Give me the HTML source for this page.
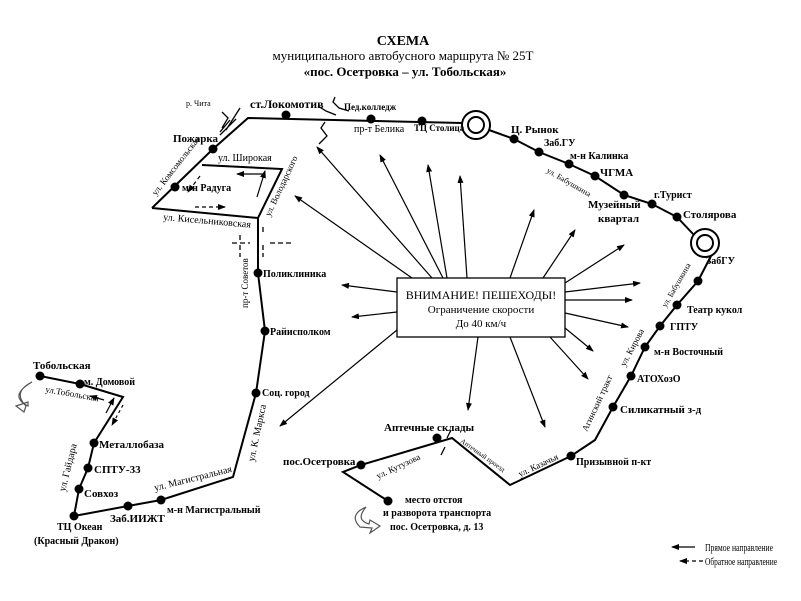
<!DOCTYPE html>
<html><head><meta charset="utf-8"><style>
html,body{margin:0;padding:0;background:#fff;width:801px;height:601px;overflow:hidden}
svg{display:block}
text{font-family:"Liberation Serif",serif;fill:#000}
.b{font-weight:bold;font-size:11px}
.g{font-size:10px;fill:#555}
</style></head><body>
<svg width="801" height="601" viewBox="0 0 801 601" xmlns="http://www.w3.org/2000/svg">
<defs><marker id="a" markerWidth="8" markerHeight="6" refX="7" refY="3" orient="auto" markerUnits="userSpaceOnUse"><path d="M0,0L8,3L0,6z" fill="#000"/></marker></defs>
<text x="403" y="45" text-anchor="middle" font-weight="bold" font-size="14">СХЕМА</text>
<text x="403" y="60" text-anchor="middle" font-size="13">муниципального  автобусного  маршрута № 25Т</text>
<text x="405" y="76" text-anchor="middle" font-weight="bold" font-size="13">«пос. Осетровка – ул. Тобольская»</text>
<g fill="none" stroke="#000" stroke-width="2">
<polyline points="152,208 213,149 248,118 462,123"/>
<circle cx="476" cy="125" r="14"/><circle cx="476" cy="125" r="8"/>
<polyline points="489,130 514,139 539,152 569,164 595,176 624,195 652,204 677,217 694,235"/>
<circle cx="705" cy="243" r="14"/><circle cx="705" cy="243" r="8"/>
<polyline points="711,256 698,281 677,305 660,326 645,347 631,376 613,407 595,440 571,456 510,485 452,438 361,465 343,472 388,501"/>
<polyline points="202,165 282,169 258,218 152,208"/>
<polyline points="258,218 258,273 265,331 256,393 233,477 161,500 128,506 74,516 79,489 88,468 94,443 123,397 80,384 40,376"/>
</g>
<g fill="none" stroke="#000" stroke-width="1.3">
<path d="M222,112l6,6 -6,10 M230,120l-10,12 M240,108l-14,22 M220,135l16,-16"/>
<path d="M335,97l-2,5 6,6 10,3 M318,106l8,5 10,4 M325,122l-4,6 6,8 -8,8"/>
<path d="M240,240v-8 M240,245v12 M232,243h18 M263,232v-6 M263,245v12 M270,243h22" stroke-dasharray="5,3"/>
<path d="M447,438l4,-8 M445,447l-4,8" />
</g>
<g stroke="#000" stroke-width="1.2" marker-end="url(#a)" fill="none">
<line x1="263" y1="174" x2="237" y2="174"/><line x1="257" y1="197" x2="265" y2="171"/>
<line x1="195" y1="207" x2="225" y2="207" stroke-dasharray="4,3"/><line x1="200" y1="176" x2="188" y2="192" stroke-dasharray="4,3"/>
<line x1="104" y1="400" x2="90" y2="396"/><line x1="106" y1="413" x2="114" y2="398"/>
<line x1="123" y1="405" x2="112" y2="425" stroke-dasharray="3,3"/>
<line x1="412" y1="278" x2="295" y2="196"/><line x1="432" y1="278" x2="317" y2="147"/>
<line x1="443" y1="278" x2="380" y2="155"/><line x1="447" y1="278" x2="428" y2="165"/>
<line x1="467" y1="278" x2="460" y2="176"/><line x1="510" y1="278" x2="534" y2="210"/>
<line x1="543" y1="278" x2="575" y2="230"/><line x1="565" y1="283" x2="624" y2="245"/>
<line x1="565" y1="292" x2="640" y2="283"/><line x1="565" y1="300" x2="632" y2="300"/>
<line x1="565" y1="313" x2="628" y2="327"/><line x1="565" y1="328" x2="593" y2="351"/>
<line x1="550" y1="337" x2="588" y2="379"/><line x1="478" y1="337" x2="468" y2="410"/>
<line x1="510" y1="337" x2="545" y2="427"/><line x1="397" y1="330" x2="280" y2="426"/>
<line x1="397" y1="292" x2="342" y2="285"/><line x1="397" y1="312" x2="352" y2="317"/>
<line x1="695" y1="547" x2="672" y2="547"/><line x1="703" y1="561" x2="680" y2="561" stroke-dasharray="4,3"/>
</g>
<rect x="397" y="278" width="168" height="59" fill="#fff" stroke="#000" stroke-width="1.3"/>
<text x="481" y="299" text-anchor="middle" font-size="12" fill="#333">ВНИМАНИЕ! ПЕШЕХОДЫ!</text>
<text x="481" y="313" text-anchor="middle" font-size="11" fill="#333">Ограничение скорости</text>
<text x="481" y="327" text-anchor="middle" font-size="11" fill="#333">До 40 км/ч</text>
<g fill="#000">
<circle cx="286" cy="115" r="4.5"/><circle cx="213" cy="149" r="4.5"/><circle cx="371" cy="119" r="4.5"/><circle cx="422" cy="121" r="4.5"/>
<circle cx="175" cy="187" r="4.5"/><circle cx="258" cy="273" r="4.5"/><circle cx="265" cy="331" r="4.5"/><circle cx="256" cy="393" r="4.5"/>
<circle cx="161" cy="500" r="4.5"/><circle cx="128" cy="506" r="4.5"/><circle cx="74" cy="516" r="4.5"/><circle cx="79" cy="489" r="4.5"/>
<circle cx="88" cy="468" r="4.5"/><circle cx="94" cy="443" r="4.5"/><circle cx="80" cy="384" r="4.5"/><circle cx="40" cy="376" r="4.5"/>
<circle cx="514" cy="139" r="4.5"/><circle cx="539" cy="152" r="4.5"/><circle cx="569" cy="164" r="4.5"/><circle cx="595" cy="176" r="4.5"/>
<circle cx="624" cy="195" r="4.5"/><circle cx="652" cy="204" r="4.5"/><circle cx="677" cy="217" r="4.5"/>
<circle cx="698" cy="281" r="4.5"/><circle cx="677" cy="305" r="4.5"/><circle cx="660" cy="326" r="4.5"/><circle cx="645" cy="347" r="4.5"/>
<circle cx="631" cy="376" r="4.5"/><circle cx="613" cy="407" r="4.5"/><circle cx="571" cy="456" r="4.5"/>
<circle cx="437" cy="438" r="4.5"/><circle cx="361" cy="465" r="4.5"/><circle cx="388" cy="501" r="4.5"/>
</g>
<g class="b">
<text x="250" y="108" font-size="12">ст.Локомотив</text>
<text x="173" y="142">Пожарка</text>
<text x="344" y="110" font-size="9">Пед.колледж</text>
<text x="414" y="131" font-size="9">ТЦ Столица</text>
<text x="182" y="191" font-size="10">м-н Радуга</text>
<text x="263" y="277" font-size="10">Поликлиника</text>
<text x="270" y="335" font-size="10">Райисполком</text>
<text x="262" y="396" font-size="10">Соц. город</text>
<text x="167" y="513" font-size="10">м-н Магистральный</text>
<text x="110" y="522">Заб.ИИЖТ</text>
<text x="57" y="530" font-size="10">ТЦ Океан</text>
<text x="34" y="544" font-size="10">(Красный Дракон)</text>
<text x="84" y="497">Совхоз</text>
<text x="94" y="473">СПТУ-33</text>
<text x="99" y="448">Металлобаза</text>
<text x="33" y="369">Тобольская</text>
<text x="84" y="385" font-size="10">м. Домовой</text>
<text x="511" y="133">Ц. Рынок</text>
<text x="544" y="146" font-size="10">Заб.ГУ</text>
<text x="570" y="159" font-size="10">м-н Калинка</text>
<text x="600" y="176">ЧГМА</text>
<text x="588" y="208">Музейный</text>
<text x="598" y="222">квартал</text>
<text x="654" y="198" font-size="10">г.Турист</text>
<text x="683" y="218">Столярова</text>
<text x="706" y="264" font-size="10">ЗабГУ</text>
<text x="687" y="313" font-size="10">Театр кукол</text>
<text x="670" y="330" font-size="10">ГПТУ</text>
<text x="654" y="355" font-size="10">м-н Восточный</text>
<text x="637" y="382" font-size="10">АТОХозО</text>
<text x="620" y="413">Силикатный з-д</text>
<text x="576" y="465" font-size="10">Призывной п-кт</text>
<text x="384" y="431">Аптечные склады</text>
<text x="283" y="465">пос.Осетровка</text>
<text x="405" y="503" font-size="10">место отстоя</text>
<text x="383" y="516" font-size="10">и разворота транспорта</text>
<text x="390" y="530" font-size="10">пос. Осетровка, д. 13</text>
</g>
<g class="g">
<text x="186" y="106" font-size="8" fill="#000">р. Чита</text>
<text x="354" y="132">пр-т Белика</text>
<text x="218" y="161">ул. Широкая</text>
<text x="163" y="220" transform="rotate(5 163 220)">ул. Кисельниковская</text>
<text x="156" y="196" font-size="9" transform="rotate(-52 156 196)">ул. Комсомольская</text>
<text x="270" y="217" font-size="9" transform="rotate(-65 270 217)">ул. Володарского</text>
<text x="248" y="308" font-size="9" transform="rotate(-90 248 308)">пр-т Советов</text>
<text x="254" y="462" transform="rotate(-78 254 462)">ул. К. Маркса</text>
<text x="155" y="491" transform="rotate(-14 155 491)">ул. Магистральная</text>
<text x="65" y="492" transform="rotate(-76 65 492)">ул. Гайдара</text>
<text x="45" y="392" font-size="9" transform="rotate(10 45 392)">ул.Тобольская</text>
<text x="546" y="172" font-size="8" transform="rotate(30 546 172)">ул. Бабушкина</text>
<text x="666" y="308" font-size="8" transform="rotate(-60 666 308)">ул. Бабушкина</text>
<text x="625" y="367" font-size="9" transform="rotate(-62 625 367)">ул. Кирова</text>
<text x="587" y="432" font-size="9" transform="rotate(-65 587 432)">Агинский тракт</text>
<text x="520" y="477" font-size="9" transform="rotate(-25 520 477)">ул. Казачья</text>
<text x="460" y="442" font-size="7" transform="rotate(35 460 442)">Аптечный проезд</text>
<text x="378" y="479" font-size="9" transform="rotate(-25 378 479)">ул. Кутузова</text>
</g>
<text x="705" y="551" font-size="10" fill="#333" textLength="68" lengthAdjust="spacingAndGlyphs">Прямое направление</text>
<text x="705" y="565" font-size="10" fill="#333" textLength="72" lengthAdjust="spacingAndGlyphs">Обратное направление</text>
<g fill="none" stroke="#555" stroke-width="1.2">
<path d="M32,382 q-20,10 -6,24 l-2,6 l-8,-6 l12,-4 l0,4 q-20,-10 4,-24 z"/>
<path d="M366,507 q-18,8 -6,20 l12,1 l-2,5 l10,-7 l-10,-6 l-1,4 q-14,-4 -3,-17 z"/>
</g>
</svg>
</body></html>
